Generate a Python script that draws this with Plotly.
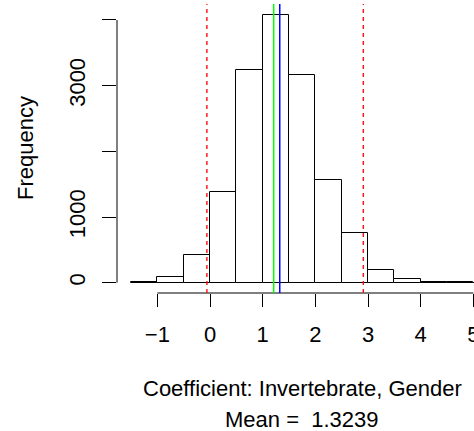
import plotly.graph_objects as go

# Histogram bins (left edges), width 0.5, and counts
bin_left = [-1.5, -1.0, -0.5, 0.0, 0.5, 1.0, 1.5, 2.0, 2.5, 3.0, 3.5, 4.0, 4.5, 5.0]
counts = [4, 87, 420, 1380, 3240, 4070, 3160, 1570, 755, 193, 51, 16, 4, 2]
bin_width = 0.5

# Reference lines
ci_bounds = [-0.059, 2.910]      # red dashed
median_val = 1.209              # green
mean_val = 1.3239               # blue

x_ticks = [-1, 0, 1, 2, 3, 4, 5]
x_ticktext = ["\u22121", "0", "1", "2", "3", "4", "5"]
y_ticks = [0, 1000, 2000, 3000, 4000]
y_ticktext = ["0", "1000", "", "3000", ""]

FONT = "Liberation Sans, Arial, Helvetica, sans-serif"
FS = 22

centers = [b + bin_width / 2 for b in bin_left]

fig = go.Figure()
fig.add_trace(go.Bar(
    x=centers, y=counts, width=[bin_width] * len(centers),
    marker=dict(color="white", line=dict(color="black", width=1)),
    hoverinfo="skip",
))

shapes = []
# axis lines spanning first to last tick, as in base R
shapes.append(dict(type="line", xref="x", yref="paper", x0=x_ticks[0], x1=x_ticks[-1],
                   y0=0, y1=0, line=dict(color="black", width=1)))
shapes.append(dict(type="line", xref="paper", yref="y", x0=0, x1=0,
                   y0=y_ticks[0], y1=y_ticks[-1], line=dict(color="black", width=1)))
for v in ci_bounds:
    shapes.append(dict(type="line", xref="x", yref="paper", x0=v, x1=v, y0=0, y1=1,
                       line=dict(color="#FF0000", width=1.3, dash="4px,4px")))
shapes.append(dict(type="line", xref="x", yref="paper", x0=median_val, x1=median_val, y0=0, y1=1,
                   line=dict(color="#00FF00", width=1.5)))
shapes.append(dict(type="line", xref="x", yref="paper", x0=mean_val, x1=mean_val, y0=0, y1=1,
                   line=dict(color="#0000FF", width=1.5)))

annotations = [
    dict(text="Coefficient: Invertebrate, Gender", xref="paper", yref="paper",
         x=0.521, y=-0.3315, xanchor="center", yanchor="middle", showarrow=False,
         font=dict(family=FONT, size=FS, color="black")),
    dict(text="Mean =  %.4f" % mean_val, xref="paper", yref="paper",
         x=0.5196, y=-0.436, xanchor="center", yanchor="middle", showarrow=False,
         font=dict(family=FONT, size=FS, color="black")),
    dict(text="Frequency", xref="paper", yref="paper", x=-0.2577, y=0.5017,
         xanchor="center", yanchor="middle", textangle=-90, showarrow=False,
         font=dict(family=FONT, size=FS, color="black")),
]

fig.update_layout(
    width=474, height=431,
    margin=dict(l=117, r=0, t=4, b=138, pad=0, autoexpand=False),
    paper_bgcolor="white", plot_bgcolor="white",
    showlegend=False, bargap=0,
    shapes=shapes, annotations=annotations,
    font=dict(family=FONT, size=FS, color="black"),
    xaxis=dict(range=[-1.766, 5.012], tickmode="array", tickvals=x_ticks, ticktext=x_ticktext,
               ticks="outside", ticklen=13, tickcolor="black", tickwidth=1,
               ticklabeloverflow="allow", ticklabelstandoff=9, automargin=False,
               showline=False, showgrid=False, zeroline=False,
               tickfont=dict(family=FONT, size=FS, color="black")),
    yaxis=dict(range=[-157.3, 4243.5], tickmode="array", tickvals=y_ticks, ticktext=y_ticktext,
               ticks="outside", ticklen=14, tickcolor="black", tickwidth=1, tickangle=-90,
               ticklabelstandoff=8, automargin=False,
               showline=False, showgrid=False, zeroline=False,
               tickfont=dict(family=FONT, size=FS, color="black")),
)

fig.write_html("out.html")
